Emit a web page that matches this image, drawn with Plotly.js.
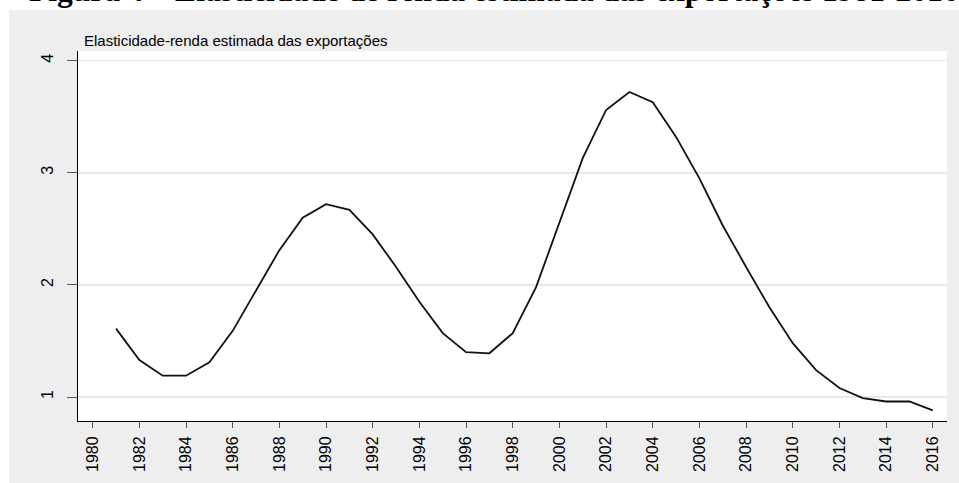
<!DOCTYPE html>
<html>
<head>
<meta charset="utf-8">
<script src="https://cdn.plot.ly/plotly-3.0.1.min.js"></script>
<style>
  html, body { margin: 0; padding: 0; background: #fff; }
  #chart { width: 959px; height: 483px; }
</style>
</head>
<body>
<div id="chart"></div>
<script>
// anos e elasticidade estimada
var anos = [1981, 1982, 1983, 1984, 1985, 1986, 1987, 1988, 1989, 1990,
            1991, 1992, 1993, 1994, 1995, 1996, 1997, 1998, 1999, 2000,
            2001, 2002, 2003, 2004, 2005, 2006, 2007, 2008, 2009, 2010,
            2011, 2012, 2013, 2014, 2015, 2016];
var elasticidade = [1.61, 1.33, 1.19, 1.19, 1.31, 1.59, 1.95, 2.31, 2.60, 2.72,
                    2.67, 2.45, 2.16, 1.85, 1.57, 1.40, 1.39, 1.57, 1.98, 2.55,
                    3.13, 3.56, 3.72, 3.63, 3.32, 2.95, 2.53, 2.16, 1.80, 1.48,
                    1.24, 1.08, 0.99, 0.96, 0.96, 0.88];

var figTitle = 'Figura 4 \u2013 Elasticidade de renda estimada das exporta\u00e7\u00f5es 1981-2016';
var chartTitle = 'Elasticidade-renda estimada das exporta\u00e7\u00f5es';

var trace = {
  x: anos,
  y: elasticidade,
  type: 'scatter',
  mode: 'lines',
  line: {color: '#111', width: 1.8},
  hoverinfo: 'x+y'
};

var layout = {
  width: 959,
  height: 483,
  margin: {l: 78, r: 12, t: 51, b: 62, pad: 0},
  paper_bgcolor: '#eeeeee',
  plot_bgcolor: '#ffffff',
  showlegend: false,
  font: {family: 'Liberation Sans, Arial, sans-serif', size: 16, color: '#000'},
  xaxis: {
    range: [1979.37, 2016.61],
    tick0: 1980, dtick: 2,
    tickangle: -90,
    ticks: 'outside', ticklen: 6, tickcolor: '#555', tickwidth: 1,
    ticklabelstandoff: 2,
    showgrid: false, zeroline: false,
    showline: true, linecolor: '#000', linewidth: 1,
    tickfont: {size: 16, color: '#000'}
  },
  yaxis: {
    range: [0.786, 4.086],
    tick0: 1, dtick: 1,
    tickangle: -90,
    ticks: 'outside', ticklen: 10, tickcolor: '#555', tickwidth: 1,
    ticklabelstandoff: 8,
    showgrid: true, gridcolor: '#e8e8e8', gridwidth: 1.5,
    zeroline: false,
    showline: true, linecolor: '#000', linewidth: 1,
    tickfont: {size: 16, color: '#000'}
  },
  shapes: [
    // faixa branca acima e a esquerda da moldura cinza
    {type: 'rect', xref: 'paper', yref: 'paper', x0: -0.1, x1: 1.1, y0: 1.1108, y1: 1.2,
     fillcolor: '#fff', line: {width: 0}, layer: 'below'},
    {type: 'rect', xref: 'paper', yref: 'paper', x0: -0.1, x1: -0.0794, y0: -0.2, y1: 1.2,
     fillcolor: '#fff', line: {width: 0}, layer: 'below'}
  ],
  annotations: [
    {text: chartTitle, xref: 'paper', yref: 'paper', x: 0, y: 1,
     xanchor: 'left', yanchor: 'bottom', xshift: 4, showarrow: false,
     font: {size: 15, color: '#000'}},
    {text: '<b>' + figTitle + '</b>', xref: 'paper', yref: 'paper', x: -0.0587, y: 1.112,
     xanchor: 'left', yanchor: 'bottom', showarrow: false,
     font: {family: 'Liberation Serif, Times New Roman, serif', size: 31.5, color: '#000'}}
  ]
};

Plotly.newPlot('chart', [trace], layout, {displayModeBar: false, staticPlot: true});
</script>
</body>
</html>
